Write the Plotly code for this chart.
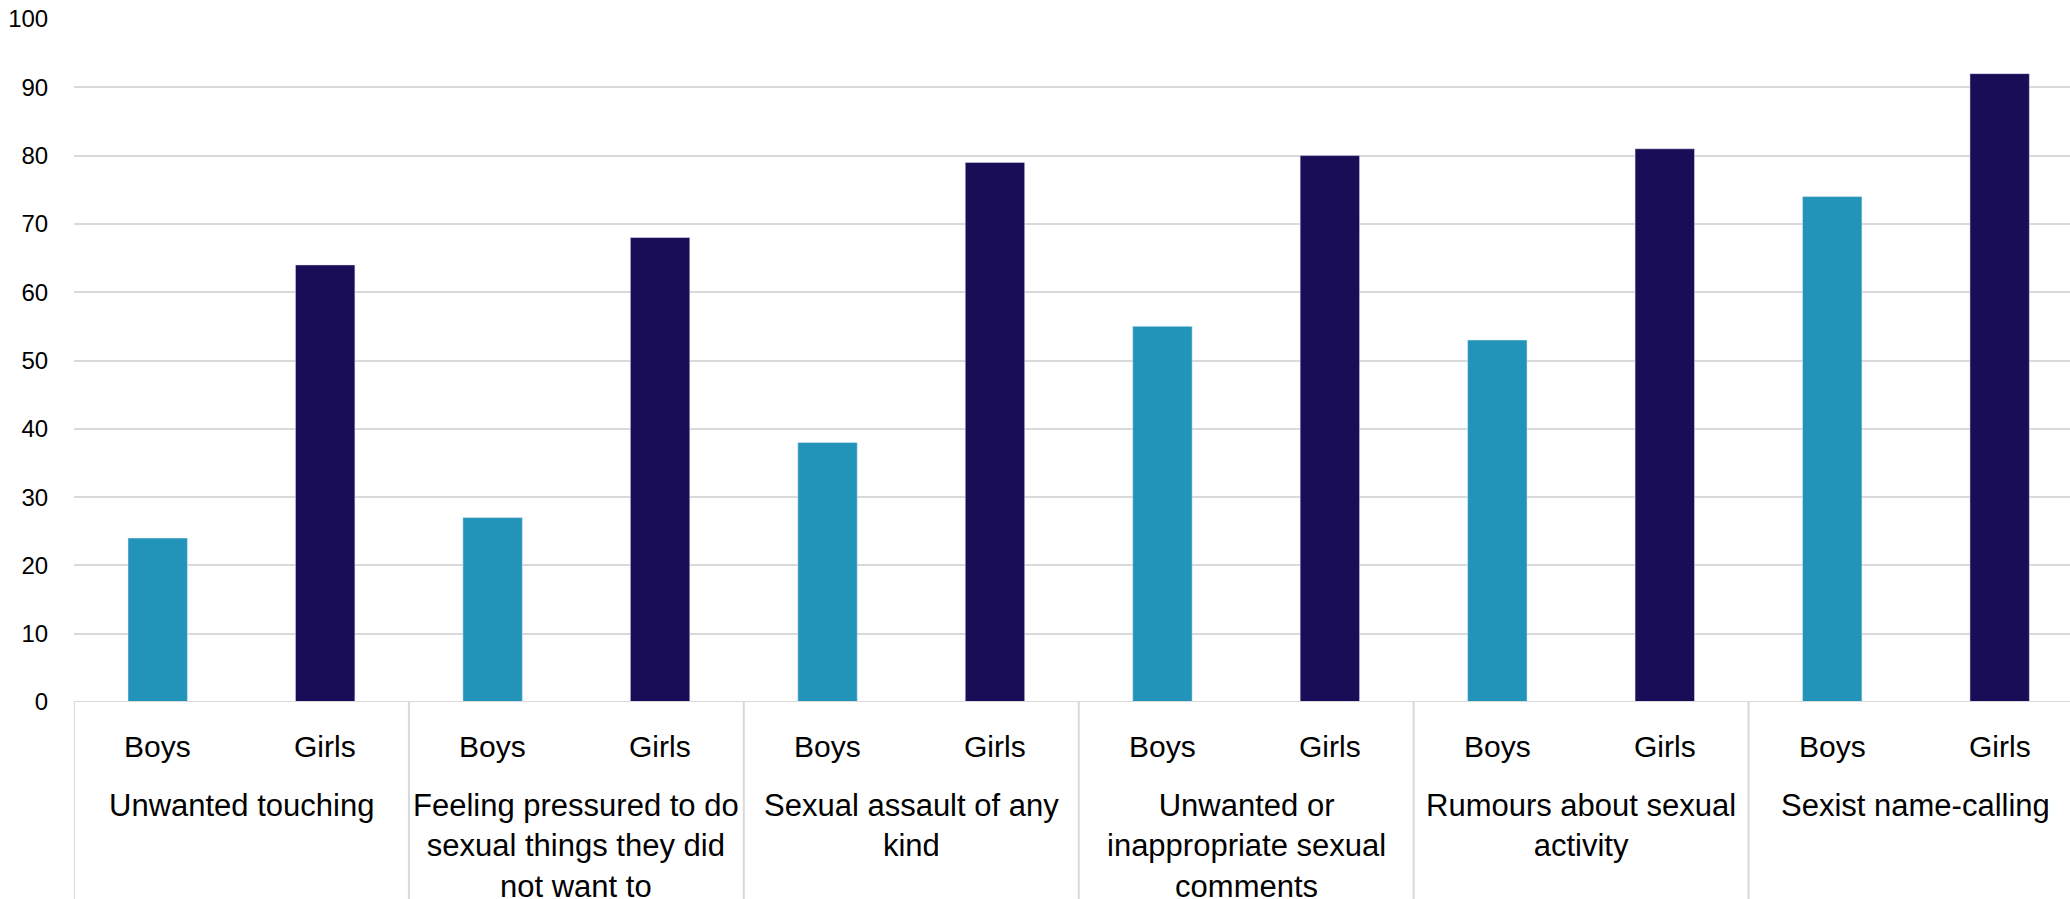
import plotly.graph_objects as go

categories = [
    "Unwanted touching",
    "Feeling pressured to do<br>sexual things they did<br>not want to",
    "Sexual assault of any<br>kind",
    "Unwanted or<br>inappropriate sexual<br>comments",
    "Rumours about sexual<br>activity",
    "Sexist name-calling",
]
groups = ["Boys", "Girls"]
boys = [24, 27, 38, 55, 53, 74]
girls = [64, 68, 79, 80, 81, 92]
y_ticks = [0, 10, 20, 30, 40, 50, 60, 70, 80, 90, 100]

BOYS_COLOR = "#2394b9"
GIRLS_COLOR = "#190d58"
GRID = "#d9d9d9"
FONT = "Liberation Sans, Arial, sans-serif"

n = len(categories)
x_boys = [2 * i for i in range(n)]
x_girls = [2 * i + 1 for i in range(n)]

fig = go.Figure()
fig.add_trace(go.Bar(x=x_boys, y=boys, name="Boys", marker_color=BOYS_COLOR,
                     width=0.355, hoverinfo="y"))
fig.add_trace(go.Bar(x=x_girls, y=girls, name="Girls", marker_color=GIRLS_COLOR,
                     width=0.355, hoverinfo="y"))

W, H = 2070, 899
ml, mt, mb = 74, 19, 197

annotations = []
for i in range(n):
    for j, g in enumerate(groups):
        annotations.append(dict(x=2 * i + j, y=0, xref="x", yref="paper", text=g,
                                showarrow=False, yanchor="middle", yshift=-44,
                                font=dict(family=FONT, size=30, color="#000000")))
    annotations.append(dict(x=2 * i + 0.5, y=0, xref="x", yref="paper", text=categories[i],
                            showarrow=False, yanchor="top", yshift=-84, align="center",
                            font=dict(family=FONT, size=31, color="#000000")))

shapes = []
for i in range(n + 1):
    shapes.append(dict(type="line", xref="x", yref="paper", x0=2 * i - 0.5, x1=2 * i - 0.5,
                       y0=0, y1=-0.35, line=dict(color=GRID, width=2)))
shapes.append(dict(type="line", xref="paper", yref="y", x0=0, x1=1, y0=0, y1=0,
                   line=dict(color=GRID, width=2)))

fig.update_layout(
    width=W, height=H,
    margin=dict(l=ml, r=0, t=mt, b=mb, pad=0),
    paper_bgcolor="white", plot_bgcolor="white",
    showlegend=False,
    barmode="overlay",
    annotations=annotations,
    shapes=shapes,
    font=dict(family=FONT, color="#000000"),
    xaxis=dict(range=[-0.5, 11.42], showticklabels=False, showgrid=False,
               zeroline=False, showline=False, ticks=""),
    yaxis=dict(range=[0, 100], tickvals=y_ticks, showgrid=True, gridcolor=GRID,
               gridwidth=2, zeroline=False, showline=False, ticks="outside",
               ticklen=20, tickcolor="rgba(0,0,0,0)",
               tickfont=dict(family=FONT, size=24, color="#000000")),
)

fig.write_html("out.html")
